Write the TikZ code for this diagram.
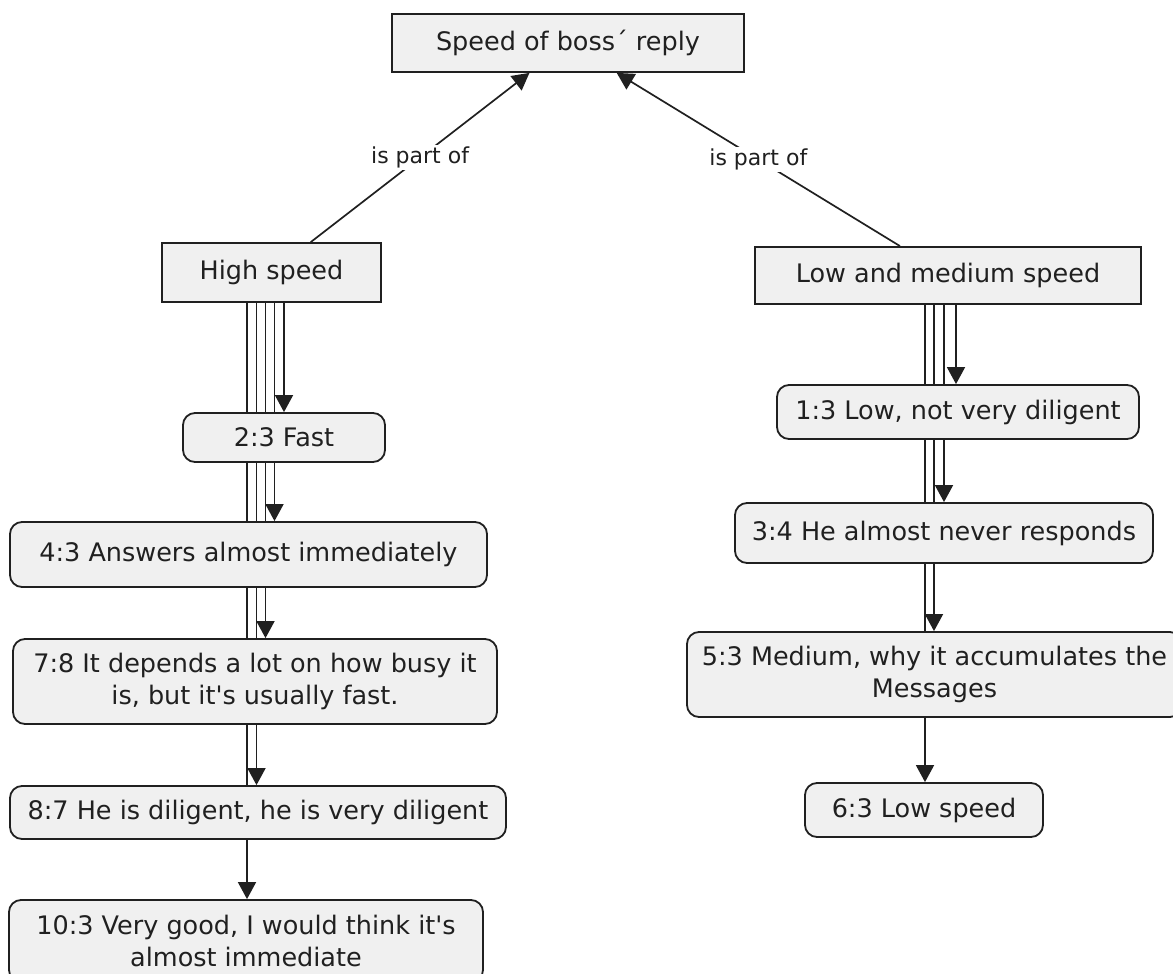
\documentclass[tikz,border=0pt]{standalone}
\usepackage{fontspec}
\setmainfont{DejaVu Sans}[Ligatures=TeXOff]
\usetikzlibrary{arrows.meta,backgrounds}
\definecolor{boxfill}{RGB}{240,240,240}
\definecolor{ink}{RGB}{32,32,32}
\tikzset{
  code/.style={draw=ink, line width=1.8pt, fill=boxfill, text=ink, inner sep=0pt,
    align=center, font=\fontsize{25.5}{32}\selectfont},
  family/.style={code},
  quote/.style={code, rounded corners=12pt},
  link/.style={draw=ink, line width=1.7pt, -{Triangle[width=18pt,length=17pt]}},
  rel/.style={font=\fontsize{22}{26}\selectfont, text=ink, fill=white, inner sep=2pt},
}
\begin{document}
\begin{tikzpicture}[x=1pt,y=-1pt]
\useasboundingbox (0,0) rectangle (1173,974);

% code families
\node[family, minimum width=352pt, minimum height=58pt] (boss) at (568,43) {Speed of boss´ reply};
\node[family, minimum width=219pt, minimum height=59pt] (hs) at (271.5,272.5) {High speed};
\node[family, minimum width=386pt, minimum height=57pt] (lm) at (948,275.5) {Low and medium speed};

% quotations under "High speed"
\node[quote, minimum width=202pt, minimum height=49pt] (fast) at (284,437.5) {2:3 Fast};
\node[quote, minimum width=477pt, minimum height=65pt] (ans) at (248.5,554.5) {4:3 Answers almost immediately};
\node[quote, minimum width=484pt, minimum height=85pt] (dep) at (255,681.5) {7:8 It depends a lot on how busy it\\is, but it's usually fast.};
\node[quote, minimum width=496pt, minimum height=53pt] (dil) at (258,812.5) {8:7 He is diligent, he is very diligent};
\node[quote, minimum width=474pt, minimum height=82pt] (vg) at (246,941) {10:3 Very good, I would think it's\\almost immediate};

% quotations under "Low and medium speed"
\node[quote, minimum width=362pt, minimum height=54pt] (low) at (958,412) {1:3 Low, not very diligent};
\node[quote, minimum width=418pt, minimum height=60pt] (never) at (944,533) {3:4 He almost never responds};
\node[quote, minimum width=495pt, minimum height=85pt] (med) at (934.5,674.5) {5:3 Medium, why it accumulates the\\Messages};
\node[quote, minimum width=238pt, minimum height=54pt] (lows) at (924,810) {6:3 Low speed};

% vertical lanes of the links
\coordinate (l1) at (284,0);
\coordinate (l2) at (274.5,0);
\coordinate (l3) at (265.5,0);
\coordinate (l4) at (256.5,0);
\coordinate (l5) at (247,0);
\coordinate (r1) at (956,0);
\coordinate (r2) at (944,0);
\coordinate (r3) at (934,0);
\coordinate (r4) at (925,0);

\begin{scope}[on background layer]
  \draw[link] (l1 |- hs.center) -- (l1 |- fast.north);
  \draw[link] (l2 |- hs.center) -- (l2 |- ans.north);
  \draw[link] (l3 |- hs.center) -- (l3 |- dep.north);
  \draw[link] (l4 |- hs.center) -- (l4 |- dil.north);
  \draw[link] (l5 |- hs.center) -- (l5 |- vg.north);
  \draw[link] (r1 |- lm.center) -- (r1 |- low.north);
  \draw[link] (r2 |- lm.center) -- (r2 |- never.north);
  \draw[link] (r3 |- lm.center) -- (r3 |- med.north);
  \draw[link] (r4 |- lm.center) -- (r4 |- lows.north);
\end{scope}

% relations between the families
\draw[link] (hs) -- node[rel] {is part of} (boss);
\draw[link] (lm) -- node[rel] {is part of} (boss);
\end{tikzpicture}
\end{document}
